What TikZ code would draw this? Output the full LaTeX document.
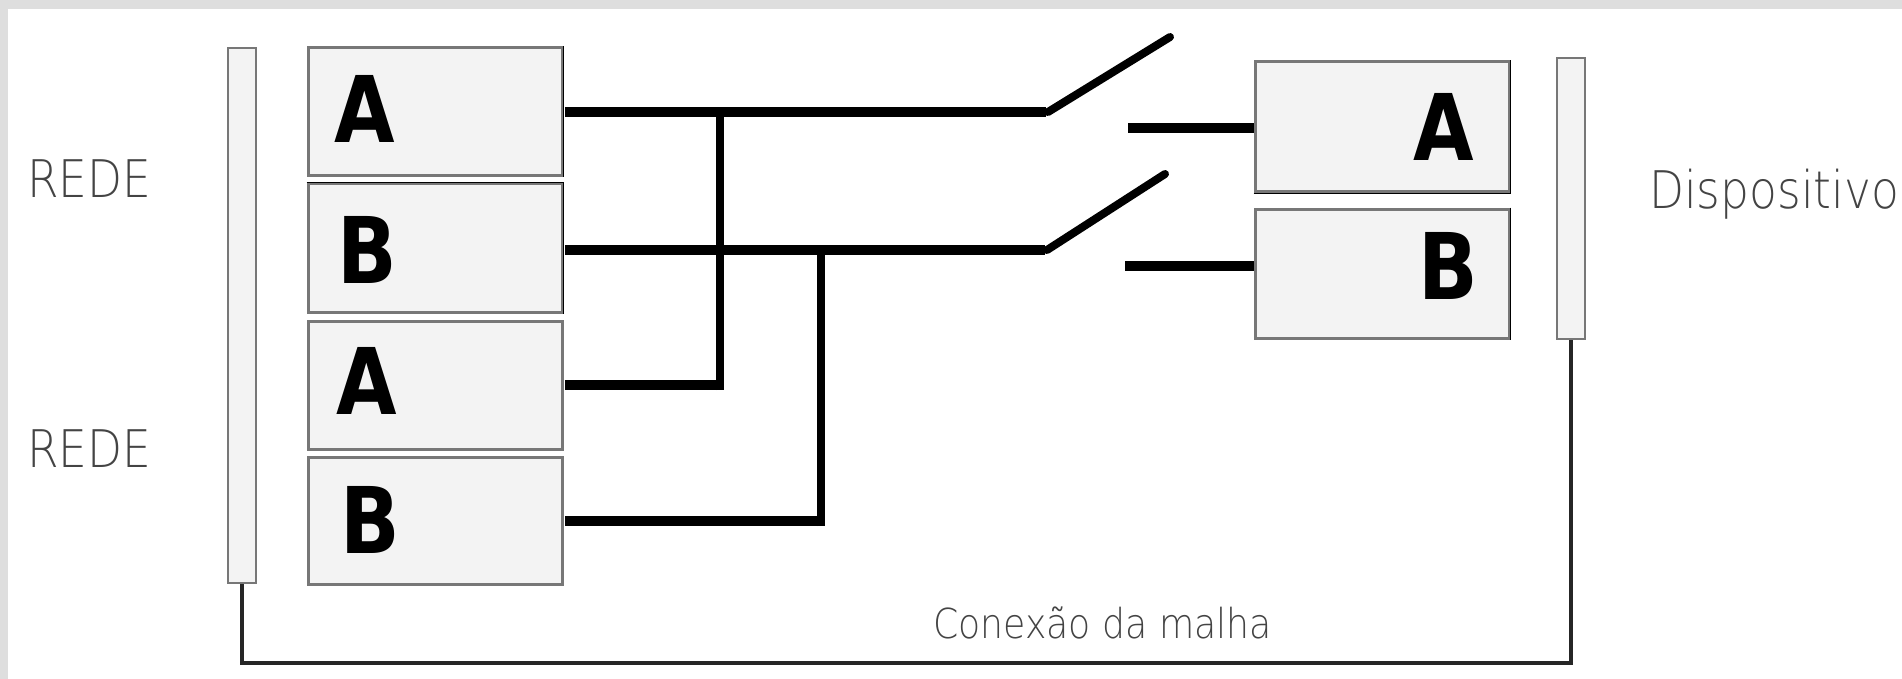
\documentclass[tikz,border=0pt]{standalone}
\usepackage{fontspec}
\setmainfont{DejaVu Sans}
\newfontfamily\bigbold{DejaVu Sans Bold}
\newfontfamily\thinface{DejaVu Sans ExtraLight}
\definecolor{boxfill}{HTML}{F3F3F3}
\definecolor{edgegray}{HTML}{777777}
\definecolor{labelgray}{HTML}{444444}
\definecolor{texture}{HTML}{DEDEDE}
\tikzset{
  unit/.style={draw=edgegray,line width=3pt,fill=boxfill,rectangle,inner sep=0pt,minimum width=254pt},
  railbar/.style={draw=edgegray,line width=2.6pt,fill=boxfill,rectangle,inner sep=0pt,minimum width=28pt},
  letter/.style={anchor=base,inner sep=0pt,font=\bigbold\fontsize{92}{92}\selectfont,xscale=.85,text=black},
  caption/.style={anchor=base west,inner sep=0pt,text=labelgray,yscale=1.14},
  wire/.style={line width=10pt,black,line cap=butt,line join=miter},
  riser/.style={line width=8pt,black,line cap=butt},
  blade/.style={line width=8pt,black,line cap=round},
  mesh/.style={line width=4pt,black!85,line join=miter},
  rightedge/.style={line width=1.8pt,black}
}
\begin{document}
\begin{tikzpicture}[x=1pt,y=-1pt]
\useasboundingbox (0,0) rectangle (1902,679);
\fill[white] (0,0) rectangle (1902,679);
\fill[texture] (0,0) rectangle (1902,9);
\fill[texture] (0,0) rectangle (8,679);

% rails
\node[railbar,minimum height=535pt] (railL) at (242,315.5) {};
\node[railbar,minimum height=281pt] (railR) at (1571,198.5) {};

% left boxes
\node[unit,minimum height=128pt] (a1) at (435,112) {};
\node[unit,minimum height=128pt] (b1) at (435,248) {};
\node[unit,minimum height=128pt] (a2) at (435,385) {};
\node[unit,minimum height=127pt] (b2) at (435,520.5) {};
% right boxes
\node[unit,minimum height=130pt] (ra) at (1382,127) {};
\node[unit,minimum height=129pt] (rb) at (1382,273.5) {};

\foreach \n in {a1,b1,ra,rb} \draw[rightedge] (\n.north east) -- (\n.south east);
\draw[rightedge] (ra.south west) -- (ra.south east);
\draw[rightedge] (b1.north west) -- (b1.north east);

% letters
\node[letter] (la1) at (365,143) {A};
\node[letter] (lb1) at (367,283) {B};
\node[letter] (la2) at (367,414) {A};
\node[letter] (lb2) at (370,553) {B};
\node[letter] (lra) at (1444,161) {A};
\node[letter] (lrb) at (1448,299) {B};

% wire junctions and ends
\coordinate (wa1) at (565,112);
\coordinate (wb1) at (565,250);
\coordinate (wa2) at (565,385);
\coordinate (wb2) at (565,521);
\coordinate (ja) at (720,112);
\coordinate (jb) at (821,250);
\coordinate (ka) at (720,390);
\coordinate (kb) at (821,526);
\coordinate (ea) at (724,385);
\coordinate (eb) at (825,521);
\coordinate (sa) at (1048,112);
\coordinate (sb) at (1047,250);
\coordinate (fa) at (1046,112);
\coordinate (fb) at (1045,250);
\coordinate (ta) at (1170,37);
\coordinate (tb) at (1165,174);
\coordinate (ca) at (1128,128);
\coordinate (cb) at (1125,266);

\draw[wire] (wa1) -- (fa);
\draw[wire] (wb1) -- (fb);
\draw[wire] (wa2) -- (ea);
\draw[wire] (wb2) -- (eb);
\draw[riser] (ka) -- (ja);
\draw[riser] (kb) -- (jb);
\draw[blade] (sa) -- (ta);
\draw[blade] (sb) -- (tb);
\draw[wire] (ca) -- (ca -| ra.west);
\draw[wire] (cb) -- (cb -| rb.west);

% mesh connection
\coordinate (mL) at (242,663);
\draw[mesh] (railL.south) -- (mL) -| (railR.south);

% labels
\node[caption,font=\thinface\fontsize{45.5}{46}\selectfont] (rede1) at (27,197) {REDE};
\node[caption,font=\thinface\fontsize{45.5}{46}\selectfont] (rede2) at (27,467) {REDE};
\node[caption,font=\thinface\fontsize{45.5}{46}\selectfont] (disp) at (1649,208) {Dispositivo};
\node[caption,font=\thinface\fontsize{36.2}{37}\selectfont] (mesh) at (933,638) {Conexão da malha};
\end{tikzpicture}
\end{document}
